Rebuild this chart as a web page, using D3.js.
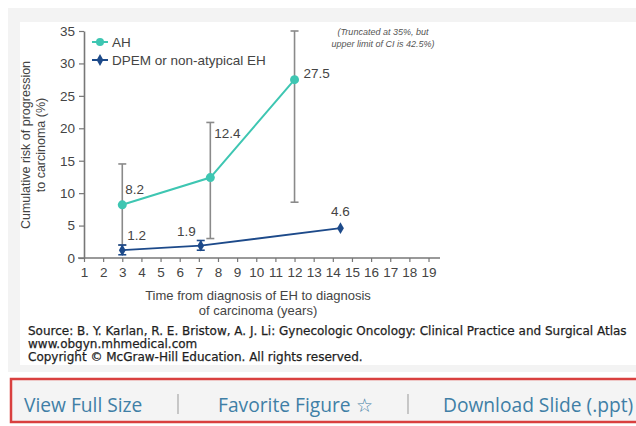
<!DOCTYPE html>
<html>
<head>
<meta charset="utf-8">
<script src="https://cdn.jsdelivr.net/npm/d3@7"></script>
<style>
  body { margin: 0; background: #fff; }
  svg text { font-family: "Liberation Sans", Arial, sans-serif; }
</style>
</head>
<body>
<svg id="chart" width="636" height="426"></svg>
<script>
// AH series: years, risk %, CI
const ahYears = [3, 7.6, 12]
const ahRisk = [8.2, 12.4, 27.5]
const ahLow = [2.0, 3.0, 8.6]
const ahHigh = [14.5, 20.9, 35]
// DPEM / non-atypical EH series
const dpYears = [3, 7.1, 14.4]
const dpRisk = [1.2, 1.9, 4.6]
const dpLow = [0.5, 1.2, null]
const dpHigh = [2.0, 2.7, null]

const xTicks = d3.range(1, 20)
const yTicks = [0, 5, 10, 15, 20, 25, 30, 35]
const legendLabels = ["AH", "DPEM or non-atypical EH"]
const links = ["View Full Size", "Favorite Figure \u2606", "Download Slide (.ppt)"]
const sourceLines = [
  "Source: B. Y. Karlan, R. E. Bristow, A. J. Li: Gynecologic Oncology: Clinical Practice and Surgical Atlas",
  "www.obgyn.mhmedical.com",
  "Copyright \u00a9 McGraw-Hill Education.  All rights reserved."
]

const teal = "#3ec6b2", navy = "#1d4a8a", grey = "#8a8a8a", ink = "#444"

let svg = d3.select("#chart")

//page panels
svg.append("rect").attr("x", 8).attr("y", 8).attr("width", 640).attr("height", 364).attr("fill", "#f3f3f3")
svg.append("rect").attr("x", 20).attr("y", 22).attr("width", 620).attr("height", 343).attr("fill", "#fff")

//scales
let x = d3.scaleLinear().domain([1, 19.6]).range([84, 440])
let y = d3.scaleLinear().domain([0, 35]).range([258, 31])

let g = svg.append("g")

//axes
let xAxis = g.append("g").attr("transform", "translate(0,258)")
  .call(d3.axisBottom(x).tickValues(xTicks).tickSize(4).tickPadding(5).tickSizeOuter(0))
let yAxis = g.append("g").attr("transform", "translate(84,0)")
  .call(d3.axisLeft(y).tickValues(yTicks).tickSize(5).tickPadding(4).tickSizeOuter(0))
;[xAxis, yAxis].forEach(a => {
  a.select(".domain").attr("stroke", "#777").attr("stroke-width", 1.6)
  a.selectAll(".tick line").attr("stroke", "#777").attr("stroke-width", 1.2)
  a.selectAll(".tick text").attr("fill", ink).attr("font-size", 13.5)
    .style("font-family", "'Liberation Sans', Arial, sans-serif")
})
//x domain starts a little left of the y axis
xAxis.select(".domain").attr("d", `M${x(1) - 6},0H${x(19.6)}`)

//axis titles
g.append("text").attr("transform", "translate(30,145) rotate(-90)")
  .attr("text-anchor", "middle").attr("fill", ink).attr("font-size", 12.5)
  .text("Cumulative risk of progression")
g.append("text").attr("transform", "translate(45,145) rotate(-90)")
  .attr("text-anchor", "middle").attr("fill", ink).attr("font-size", 12.5)
  .text("to carcinoma (%)")
g.append("text").attr("x", 258).attr("y", 300).attr("text-anchor", "middle")
  .attr("fill", ink).attr("font-size", 13).text("Time from diagnosis of EH to diagnosis")
g.append("text").attr("x", 258).attr("y", 315).attr("text-anchor", "middle")
  .attr("fill", ink).attr("font-size", 13).text("of carcinoma (years)")

//truncation note
g.append("text").attr("x", 383).attr("y", 35).attr("text-anchor", "middle")
  .attr("fill", "#555").attr("font-size", 9).attr("font-style", "italic").text("(Truncated at 35%, but")
g.append("text").attr("x", 383).attr("y", 47).attr("text-anchor", "middle")
  .attr("fill", "#555").attr("font-size", 9).attr("font-style", "italic").text("upper limit of CI is 42.5%)")

//error bars
function errBars(years, lo, hi, color) {
  years.forEach((yr, i) => {
    if (lo[i] == null) return
    let cx = x(yr)
    g.append("line").attr("x1", cx).attr("x2", cx).attr("y1", y(lo[i])).attr("y2", y(hi[i]))
      .attr("stroke", color).attr("stroke-width", 1.6)
    ;[lo[i], hi[i]].forEach(v => {
      g.append("line").attr("x1", cx - 4).attr("x2", cx + 4).attr("y1", y(v)).attr("y2", y(v))
        .attr("stroke", color).attr("stroke-width", 1.6)
    })
  })
}
errBars(ahYears, ahLow, ahHigh, grey)
errBars(dpYears, dpLow, dpHigh, navy)

let line = d3.line().x(d => x(d[0])).y(d => y(d[1]))
let ahData = ahYears.map((v, i) => [v, ahRisk[i]])
let dpData = dpYears.map((v, i) => [v, dpRisk[i]])

g.append("path").attr("d", line(ahData)).attr("fill", "none").attr("stroke", teal).attr("stroke-width", 2)
g.append("path").attr("d", line(dpData)).attr("fill", "none").attr("stroke", navy).attr("stroke-width", 1.8)

g.selectAll(".ah").data(ahData).enter().append("circle")
  .attr("cx", d => x(d[0])).attr("cy", d => y(d[1])).attr("r", 4.5).attr("fill", teal)
let diamond = d3.symbol().type(d3.symbolDiamond).size(40)
g.selectAll(".dp").data(dpData).enter().append("path").attr("d", diamond)
  .attr("transform", d => `translate(${x(d[0])},${y(d[1])})`).attr("fill", navy)

//value labels
const ahLabelOff = [[3, -11, "start"], [4, -40, "start"], [9, -2, "start"]]
const dpLabelOff = [[5, -10, "start"], [-5, -10, "end"], [0, -12, "middle"]]
ahData.forEach((d, i) => {
  g.append("text").attr("x", x(d[0]) + ahLabelOff[i][0]).attr("y", y(d[1]) + ahLabelOff[i][1])
    .attr("text-anchor", ahLabelOff[i][2]).attr("fill", ink).attr("font-size", 13.5).text(d[1])
})
dpData.forEach((d, i) => {
  g.append("text").attr("x", x(d[0]) + dpLabelOff[i][0]).attr("y", y(d[1]) + dpLabelOff[i][1])
    .attr("text-anchor", dpLabelOff[i][2]).attr("fill", ink).attr("font-size", 13.5).text(d[1])
})

//legend
let leg = g.append("g").attr("transform", "translate(92,42)")
legendLabels.forEach((lab, i) => {
  let row = leg.append("g").attr("transform", `translate(0,${i * 18})`)
  let c = i ? navy : teal
  row.append("line").attr("x1", 0).attr("x2", 16).attr("stroke", c).attr("stroke-width", 2)
  if (i) row.append("path").attr("d", diamond).attr("transform", "translate(8,0)").attr("fill", c)
  else row.append("circle").attr("cx", 8).attr("r", 4).attr("fill", c)
  row.append("text").attr("x", 20).attr("y", 5).attr("fill", ink).attr("font-size", 13.5).text(lab)
})

//source block (runs past the right edge, as in the page capture)
sourceLines.forEach((t, i) => {
  svg.append("text").attr("x", 28).attr("y", 335 + i * 13).attr("fill", "#1e1e1e")
    .attr("font-size", 12).attr("stroke", "#1e1e1e").attr("stroke-width", 0.25)
    .style("font-family", "'DejaVu Sans', Verdana, sans-serif").text(t)
})

//links bar
svg.append("rect").attr("x", 11).attr("y", 379).attr("width", 640).attr("height", 43)
  .attr("fill", "#f4f4f4").attr("stroke", "#d9403f").attr("stroke-width", 2.5)
const linkX = [24, 218, 443]
links.forEach((t, i) => {
  svg.append("text").attr("x", linkX[i]).attr("y", 412).attr("fill", "#3f7fa6")
    .attr("font-size", 19.2).style("font-family", "'Open Sans', sans-serif").text(t)
})
;[178, 408].forEach(sx => {
  svg.append("line").attr("x1", sx).attr("x2", sx).attr("y1", 394).attr("y2", 414)
    .attr("stroke", "#999").attr("stroke-width", 1)
})
</script>
</body>
</html>
